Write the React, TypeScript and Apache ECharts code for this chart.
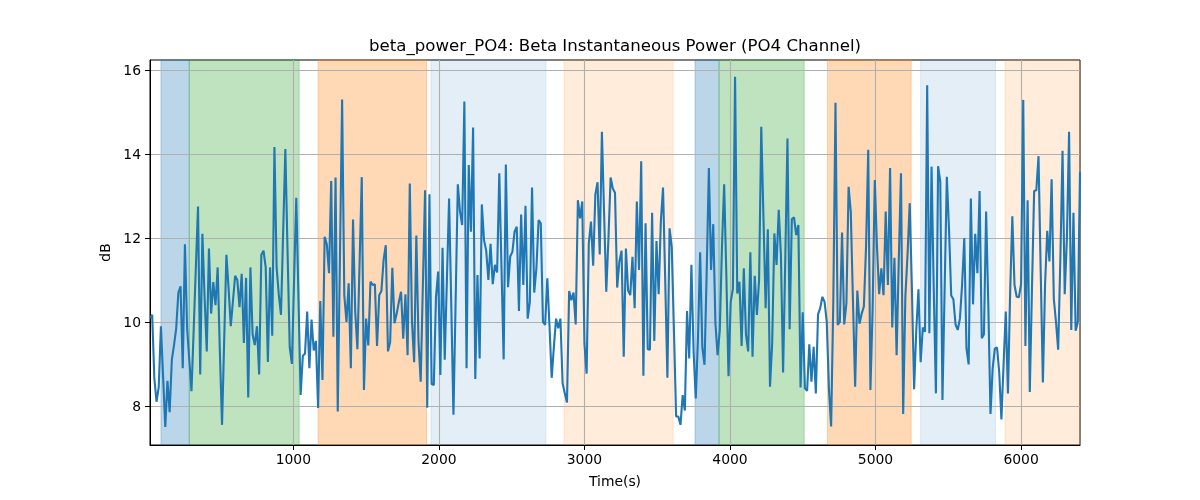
import { useEffect, useRef } from 'react';

import * as echarts from 'echarts';

// muestras cada 15 s, la primera en t = 15 s
const T_START = 15;
const T_STEP = 15;

// potencia beta instantánea (dB)
const betaPower = [
    10.1, 10.17, 8.65, 8.1, 8.45, 9.9, 8.7, 7.5, 8.6, 7.85,
    9.1, 9.45, 9.85, 10.7, 10.85, 8.9, 11.85, 9.85, 9.1, 8.35,
    9.8, 11.3, 12.75, 8.75, 12.1, 10.6, 9.3, 11.75, 10.2, 10.95,
    10.4, 11.3, 9.3, 7.55, 9.6, 11.6, 10.8, 9.9, 10.5, 11.1,
    11.0, 10.35, 11.15, 9.5, 11.05, 8.2, 11.3, 9.7, 9.45, 9.9,
    8.75, 11.6, 11.7, 11.3, 9.05, 11.3, 9.67, 14.17, 11.3, 10.65,
    10.17, 12.15, 14.12, 11.7, 9.4, 9.0, 11.0, 12.96, 10.6, 8.26,
    9.19, 9.25, 10.25, 8.9, 10.06, 9.32, 9.55, 7.95, 10.5, 8.62,
    12.03, 11.85, 11.16, 13.36, 9.65, 13.44, 7.87, 11.5, 15.3, 10.64,
    10.0, 10.92, 8.9, 12.44, 10.25, 9.35, 11.4, 13.45, 8.38, 10.08,
    9.44, 10.96, 10.88, 10.9, 9.43, 10.64, 10.74, 11.48, 11.83, 9.3,
    9.52, 11.29, 9.97, 10.2, 10.48, 10.72, 9.6, 10.66, 9.21, 13.3,
    10.0, 9.04, 12.06, 9.53, 8.58, 10.9, 13.14, 7.96, 13.04, 8.52,
    8.5, 10.6, 11.2, 8.74, 11.77, 9.1, 11.0, 12.94, 10.4, 7.79,
    10.5, 13.28, 12.63, 12.31, 15.25, 8.9, 13.74, 12.15, 14.63, 8.64,
    11.12, 9.13, 12.8, 11.95, 11.7, 11.0, 11.86, 10.9, 11.36, 11.18,
    13.54, 11.3, 9.11, 13.75, 10.83, 11.56, 11.67, 12.15, 12.27, 10.26,
    12.56, 10.88, 12.77, 10.08, 10.48, 13.2, 10.7, 11.28, 12.43, 12.35,
    10.0, 9.93, 11.04, 9.9, 8.67, 9.4, 10.08, 9.85, 10.08, 8.54,
    8.3, 8.08, 10.74, 10.52, 10.7, 9.94, 12.9, 12.47, 12.87, 9.49,
    8.77, 11.87, 12.39, 11.34, 13.04, 13.33, 11.61, 14.53, 12.6, 10.72,
    12.0, 13.44, 13.18, 13.08, 10.82, 11.44, 11.7, 9.17, 11.75, 10.75,
    10.64, 11.55, 10.33, 12.87, 11.24, 13.83, 8.72, 12.35, 9.35, 9.34,
    12.6, 9.55, 11.93, 10.66, 12.4, 13.2, 11.0, 8.67, 12.23, 11.79,
    9.8, 7.75, 7.75, 7.55, 8.26, 7.89, 10.26, 9.13, 11.36, 9.3,
    8.18, 9.6, 11.66, 9.4, 8.98, 11.2, 13.67, 11.24, 12.33, 9.97,
    9.21, 9.8, 11.8, 13.28, 11.12, 8.71, 10.48, 10.79, 15.84, 10.68,
    10.96, 9.43, 11.28, 9.7, 9.3, 11.66, 9.17, 11.1, 10.17, 11.0,
    14.65, 12.5, 10.33, 12.21, 8.46, 9.5, 12.11, 11.36, 12.67, 11.6,
    8.8, 11.5, 14.37, 9.83, 12.45, 12.49, 12.07, 12.31, 8.44, 10.23,
    8.42, 8.36, 9.47, 8.58, 9.41, 8.3, 10.18, 10.33, 10.6, 10.48,
    10.0, 8.4, 7.51, 10.5, 15.22, 9.93, 10.0, 12.13, 9.94, 10.44,
    13.22, 12.63, 10.5, 8.46, 10.75, 9.96, 10.2, 10.37, 11.8, 14.1,
    8.38, 10.3, 13.38, 11.8, 10.66, 11.28, 10.64, 12.63, 10.88, 13.67,
    9.87, 11.53, 9.21, 11.5, 13.54, 7.81, 10.6, 11.6, 12.83, 10.8,
    8.4, 9.8, 10.78, 9.04, 9.87, 9.77, 15.64, 9.73, 13.7, 10.8,
    8.3, 13.71, 13.34, 8.14, 10.8, 13.46, 12.2, 10.63, 10.54, 9.94,
    9.81, 10.08, 10.9, 12.0, 9.37, 8.99, 12.94, 10.42, 12.1, 11.16,
    13.12, 9.61, 9.71, 12.63, 10.4, 7.81, 8.9, 9.37, 9.39, 8.8,
    7.68, 9.0, 10.25, 8.3, 10.7, 12.52, 10.88, 10.6, 10.59, 10.9,
    15.29, 9.43, 12.9, 8.33, 10.8, 13.12, 13.14, 13.95, 11.2, 8.56,
    10.9, 12.17, 11.44, 13.4, 10.56, 10.0, 9.34, 11.5, 14.08, 10.66,
    12.0, 14.53, 9.81, 12.6, 9.79, 10.0, 13.58,
];

// franjas de fondo (s)
const bandStart = [90, 285, 1170, 1945, 2860, 3760, 3925, 4670, 5310, 5890];
const bandEnd = [285, 1040, 1915, 2735, 3610, 3925, 4510, 5245, 5825, 6405];
const bandColor = [
    'rgba(31,119,180,0.3)',
    'rgba(44,160,44,0.3)',
    'rgba(255,127,14,0.3)',
    'rgba(31,119,180,0.12)',
    'rgba(255,127,14,0.15)',
    'rgba(31,119,180,0.3)',
    'rgba(44,160,44,0.3)',
    'rgba(255,127,14,0.3)',
    'rgba(31,119,180,0.12)',
    'rgba(255,127,14,0.15)',
];

const xTicks = [1000, 2000, 3000, 4000, 5000, 6000];
const yTicks = [8, 10, 12, 14, 16];

const X_MIN = 15;
const X_MAX = 6405;
const Y_MIN = 7.07;
const Y_MAX = 16.24;

const FONT = 'DejaVu Sans';

const App = () => {
    const chartRef = useRef<HTMLDivElement | null>(null);

    useEffect(() => {
        const myChart = echarts.init(chartRef.current!, undefined, { renderer: 'svg' });

        const lineData = betaPower.map((v, i) => [T_START + i * T_STEP, v]);
        const areas = bandStart.map((s, i) => [
            { xAxis: s, itemStyle: { color: bandColor[i], borderColor: bandColor[i], borderWidth: 1 } },
            { xAxis: bandEnd[i] },
        ]);

        const option: any = {
            animation: false,
            textStyle: { fontFamily: FONT, color: '#000' },
            title: {
                text: 'beta_power_PO4: Beta Instantaneous Power (PO4 Channel)',
                left: 610,
                top: 32,
                textAlign: 'center',
                textStyle: { fontFamily: FONT, fontSize: 16.6, fontWeight: 'normal', color: '#000' },
            },
            grid: {
                left: 150,
                right: 120,
                top: 60,
                bottom: 55,
                show: true,
                borderColor: '#000',
                borderWidth: 1,
                backgroundColor: 'transparent',
                containLabel: false,
                outerBoundsMode: 'none',
            },
            xAxis: {
                type: 'value',
                min: X_MIN,
                max: X_MAX,
                z: 1.5,
                name: 'Time(s)',
                nameLocation: 'middle',
                nameGap: 29,
                nameTextStyle: { fontFamily: FONT, fontSize: 13.9, color: '#000' },
                axisLine: { show: true, onZero: false, lineStyle: { color: '#000', width: 1 } },
                axisTick: { show: true, inside: false, length: 5, lineStyle: { color: '#000', width: 1 }, customValues: xTicks },
                axisLabel: {
                    customValues: xTicks,
                    fontFamily: FONT,
                    fontSize: 13.9,
                    color: '#000',
                    margin: 7,
                    formatter: (v: number) => String(v),
                },
                splitLine: { show: true, lineStyle: { color: '#b0b0b0', width: 1.1 } },
            },
            yAxis: {
                type: 'value',
                min: Y_MIN,
                max: Y_MAX,
                z: 1.5,
                name: 'dB',
                nameLocation: 'middle',
                nameGap: 30,
                nameTextStyle: { fontFamily: FONT, fontSize: 13.9, color: '#000' },
                axisLine: { show: true, onZero: false, lineStyle: { color: '#000', width: 1 } },
                axisTick: { show: true, inside: false, length: 5, lineStyle: { color: '#000', width: 1 }, customValues: yTicks },
                axisLabel: {
                    customValues: yTicks,
                    fontFamily: FONT,
                    fontSize: 13.9,
                    color: '#000',
                    margin: 9,
                    formatter: (v: number) => String(v),
                },
                splitLine: { show: true, lineStyle: { color: '#b0b0b0', width: 1.1 } },
            },
            series: [
                {
                    name: 'beta_power_PO4',
                    type: 'line',
                    z: 2,
                    data: lineData,
                    showSymbol: false,
                    symbol: 'none',
                    clip: true,
                    lineStyle: { color: '#1f77b4', width: 2.1 },
                    itemStyle: { color: '#1f77b4' },
                    markArea: {
                        silent: true,
                        z: 1,
                        data: areas,
                    },
                },
            ],
        };

        myChart.setOption(option);

        return () => {
            myChart.dispose();
        };
    }, []);

    return <div ref={chartRef} style={{ position: 'fixed', left: 0, top: 0, width: 1200, height: 500 }} />;
};

export default App;
